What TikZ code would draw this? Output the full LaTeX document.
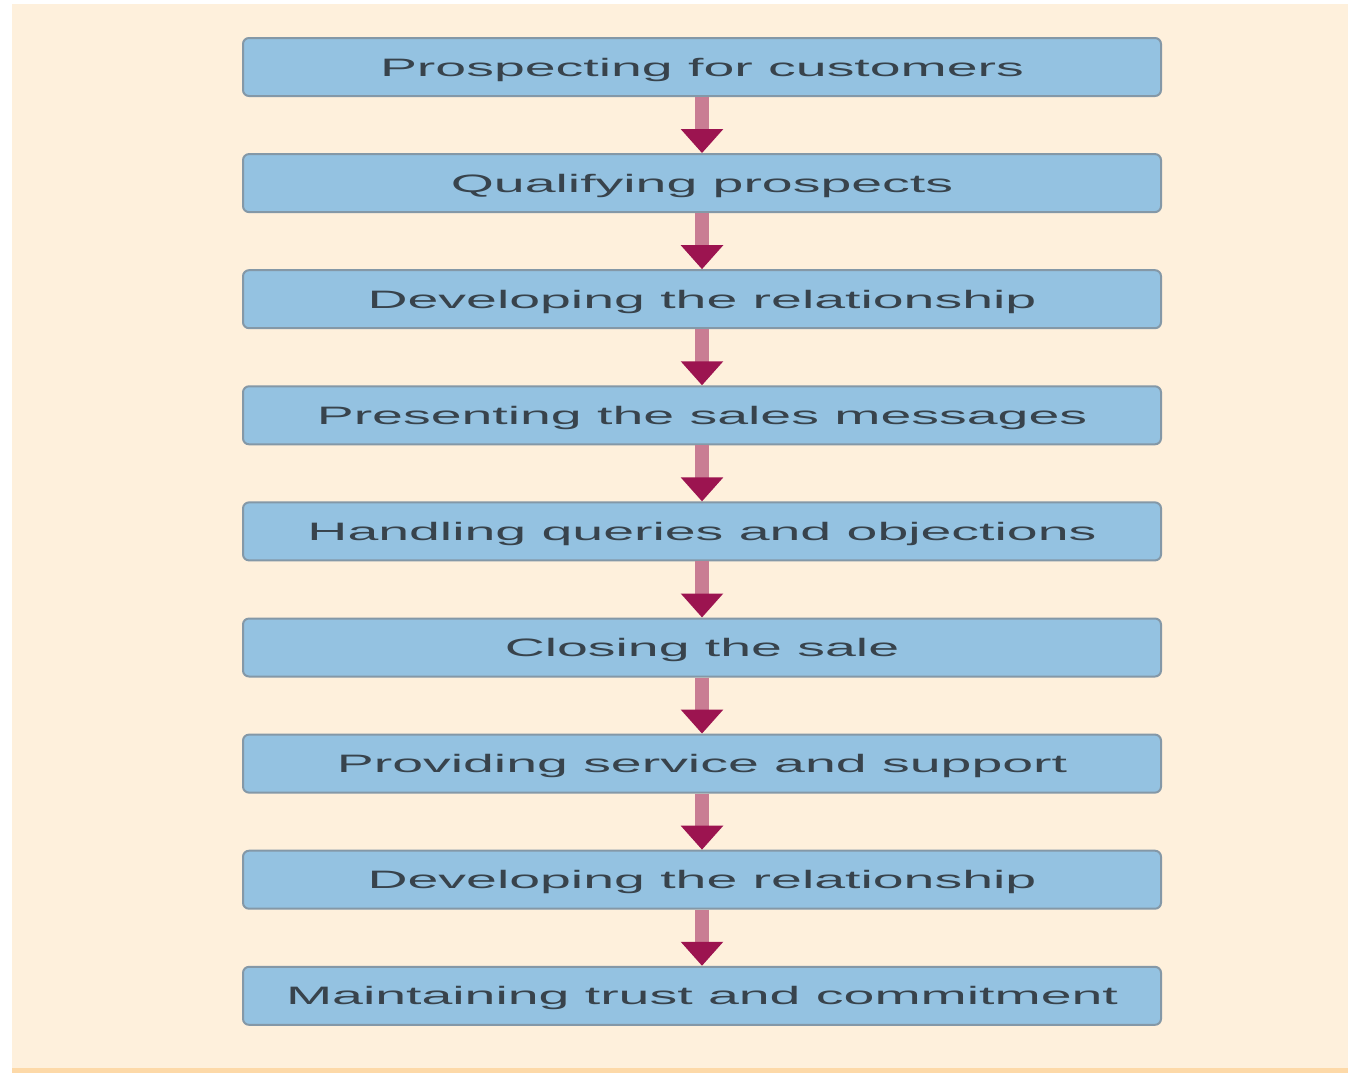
\documentclass[tikz,border=0pt]{standalone}
\usepackage{fontspec}
\setmainfont{Liberation Sans}
\usetikzlibrary{arrows.meta}

\definecolor{bgcream}{HTML}{FEF0DC}
\definecolor{bgedge}{HTML}{FDD9A8}
\definecolor{boxfill}{HTML}{94C2E1}
\definecolor{boxline}{HTML}{8498A7}
\definecolor{boxtext}{HTML}{38434C}
\definecolor{shaftpink}{HTML}{C97D93}
\definecolor{headred}{HTML}{9C1450}

\newcommand{\widetext}[1]{\scalebox{2.2}[1]{#1}}

\tikzset{
  stepbox/.style={draw=boxline,fill=boxfill,line width=1pt,rounded corners=3pt,
    minimum width=459pt,minimum height=29pt,inner sep=0pt,
    text height=9pt,text depth=0pt,
    font=\fontsize{12.6}{14}\selectfont,text=boxtext},
  flowarrow/.style={draw=shaftpink,line width=7pt,
    -{Triangle[length=12pt,width=20.5pt,color=headred]}}
}

\begin{document}
\begin{tikzpicture}
\useasboundingbox (0,0) rectangle (674pt,-536.5pt);
\fill[bgcream] (6pt,-2pt) rectangle (674pt,-534pt);
\fill[bgedge] (6pt,-534pt) rectangle (674pt,-536.5pt);

\foreach \i [count=\n] in
  {Prospecting for customers,Qualifying prospects,Developing the relationship,
   Presenting the sales messages,Handling queries and objections,Closing the sale,
   Providing service and support,Developing the relationship,Maintaining trust and commitment}
  \node[stepbox,yshift=-\n*58.05pt] (N\n) at (351pt,24.55pt) {\widetext{\i}};

\foreach \a [count=\b from 2] in {1,...,8}
  \draw[flowarrow] (N\a.south) -- (N\b.north);
\end{tikzpicture}
\end{document}
